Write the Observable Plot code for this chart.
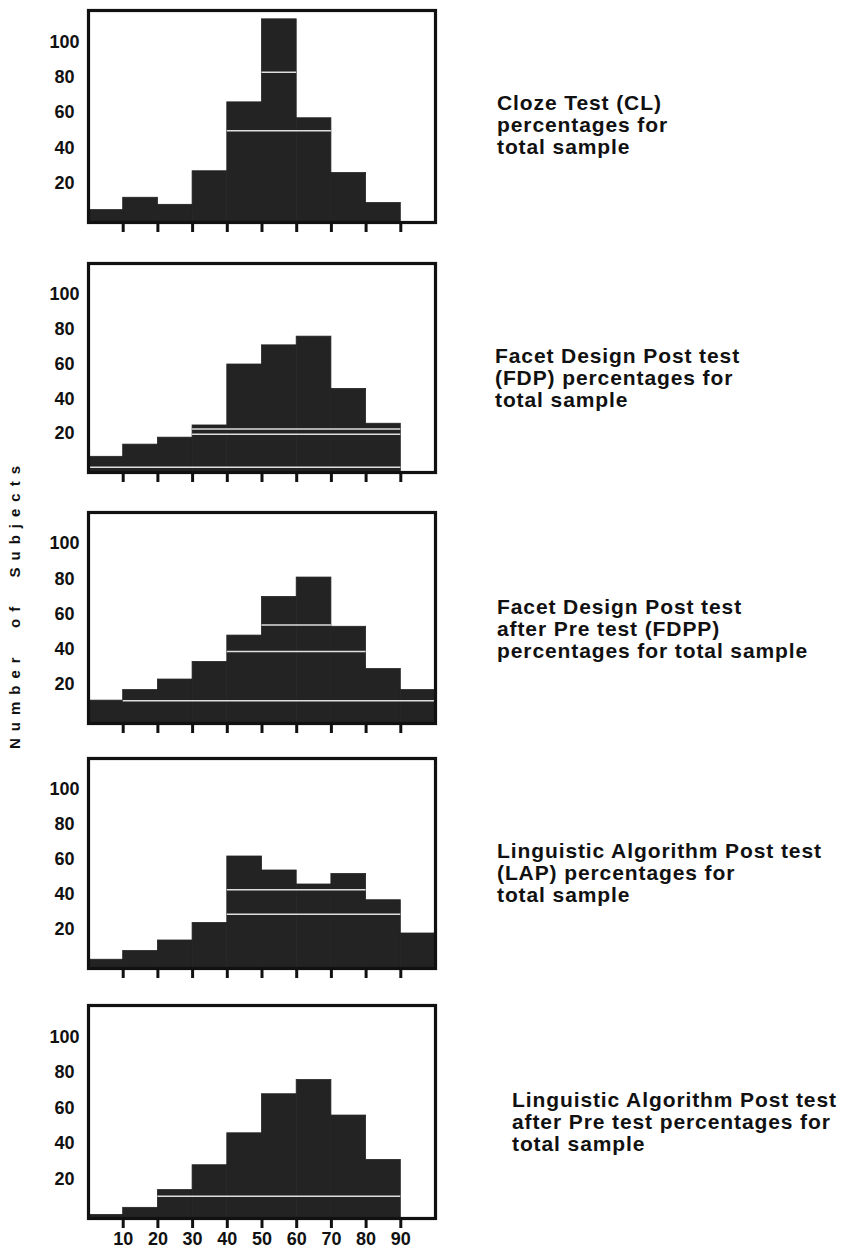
<!DOCTYPE html>
<html><head><meta charset="utf-8">
<script src="https://cdn.jsdelivr.net/npm/d3@7"></script>
<script src="https://cdn.jsdelivr.net/npm/@observablehq/plot@0.6"></script>
<style>
body{margin:0;background:#fff;}
#page{position:relative;width:845px;height:1254px;overflow:hidden;background:#fff;font-family:"Liberation Sans",Arial,sans-serif;}
.panel{position:absolute;left:40px;}
.panel text{font-size:18px;font-weight:bold;}
.note{position:absolute;font-weight:bold;font-size:21px;letter-spacing:0.9px;line-height:22px;color:#111;white-space:nowrap;}
#ylab{position:absolute;left:14px;top:604px;transform:translate(-50%,-50%) rotate(-90deg);font-weight:bold;font-size:15px;letter-spacing:7px;white-space:pre;color:#111;}
</style></head><body><div id="page"></div>
<script>
// bin starts (percent score classes of width 10)
const binStarts = [0, 10, 20, 30, 40, 50, 60, 70, 80, 90];
// number of subjects per bin
const clCounts   = [7, 14, 10, 29, 68, 115, 59, 28, 11, 0];
const fdpCounts  = [9, 16, 20, 27, 62, 73, 78, 48, 28, 0];
const fdppCounts = [13, 19, 25, 35, 50, 72, 83, 55, 31, 19];
const lapCounts  = [5, 10, 16, 26, 64, 56, 48, 54, 39, 20];
const lappCounts = [2, 6, 16, 30, 48, 70, 78, 58, 33, 0];
// white print seams visible inside the bars
const clSeams   = [{y: 52, x1: 40, x2: 70}, {y: 85, x1: 50, x2: 60}];
const fdpSeams  = [{y: 22, x1: 30, x2: 90}, {y: 25, x1: 30, x2: 90}, {y: 3, x1: 0, x2: 90}];
const fdppSeams = [{y: 13, x1: 10, x2: 100}, {y: 41, x1: 40, x2: 80}, {y: 56, x1: 50, x2: 70}];
const lapSeams  = [{y: 45, x1: 40, x2: 80}, {y: 31, x1: 40, x2: 90}];
const lappSeams = [{y: 12.5, x1: 20, x2: 90}];
// axes
const xTicks = [10, 20, 30, 40, 50, 60, 70, 80, 90];
const yTicks = [20, 40, 60, 80, 100];
// captions
const captions = [
  ["Cloze Test (CL)", "percentages for", "total sample"],
  ["Facet Design Post test", "(FDP) percentages for", "total sample"],
  ["Facet Design Post test", "after Pre test (FDPP)", "percentages for total sample"],
  ["Linguistic Algorithm Post test", "(LAP) percentages for", "total sample"],
  ["Linguistic Algorithm Post test", "after Pre test percentages for", "total sample"]
];
const yTitle = "Number  of  Subjects";

const panels = [
  {counts: clCounts,   seams: clSeams,   top: 10,   bottom: 222,  capX: 497, capY: 103},
  {counts: fdpCounts,  seams: fdpSeams,  top: 263,  bottom: 472,  capX: 495, capY: 356},
  {counts: fdppCounts, seams: fdppSeams, top: 512,  bottom: 723,  capX: 497, capY: 607},
  {counts: lapCounts,  seams: lapSeams,  top: 758,  bottom: 968,  capX: 497, capY: 851},
  {counts: lappCounts, seams: lappSeams, top: 1005, bottom: 1218, capX: 512, capY: 1100}
];

const page = document.getElementById("page");
const mt = 4, mb = 36;
panels.forEach((p, i) => {
  const data = binStarts.map((b, j) => ({x1: b, x2: b + 10, y: p.counts[j]}));
  const last = i === panels.length - 1;
  const chart = Plot.plot({
    width: 405,
    height: (p.bottom - p.top) + mt + mb,
    marginLeft: 48, marginRight: 10, marginTop: mt, marginBottom: mb,
    style: {fontFamily: "Liberation Sans, Arial, sans-serif", fontSize: "18px", fontWeight: "bold",
            background: "transparent", color: "#111"},
    x: {domain: [0, 100]},
    y: {domain: [0, 120]},
    marks: [
      Plot.rectY(data, {x1: "x1", x2: "x2", y: "y", fill: "#232323", stroke: "#232323", strokeWidth: 0.8}),
      Plot.ruleY(p.seams, {y: "y", x1: "x1", x2: "x2", stroke: "white", strokeWidth: 1.5, strokeOpacity: 0.85}),
      Plot.frame({stroke: "#111", strokeWidth: 3.2}),
      Plot.axisX({ticks: xTicks, tickSize: 10, strokeWidth: 3, tickPadding: 4, label: null,
        tickFormat: last ? (d => String(d)) : (() => ""), fontSize: 18, fontWeight: "bold"}),
      Plot.axisY({ticks: yTicks, tickSize: 0, tickPadding: 24, textAnchor: "middle", dy: -4,
        label: null, fontSize: 18, fontWeight: "bold"})
    ]
  });
  chart.classList.add("panel");
  chart.style.top = (p.top - mt) + "px";
  page.appendChild(chart);

  const cap = document.createElement("div");
  cap.className = "note";
  cap.style.left = p.capX + "px";
  cap.style.top = (p.capY - 11) + "px";
  cap.innerHTML = captions[i].join("<br>");
  page.appendChild(cap);
});

const yl = document.createElement("div");
yl.id = "ylab";
yl.textContent = yTitle;
page.appendChild(yl);
</script></body></html>
